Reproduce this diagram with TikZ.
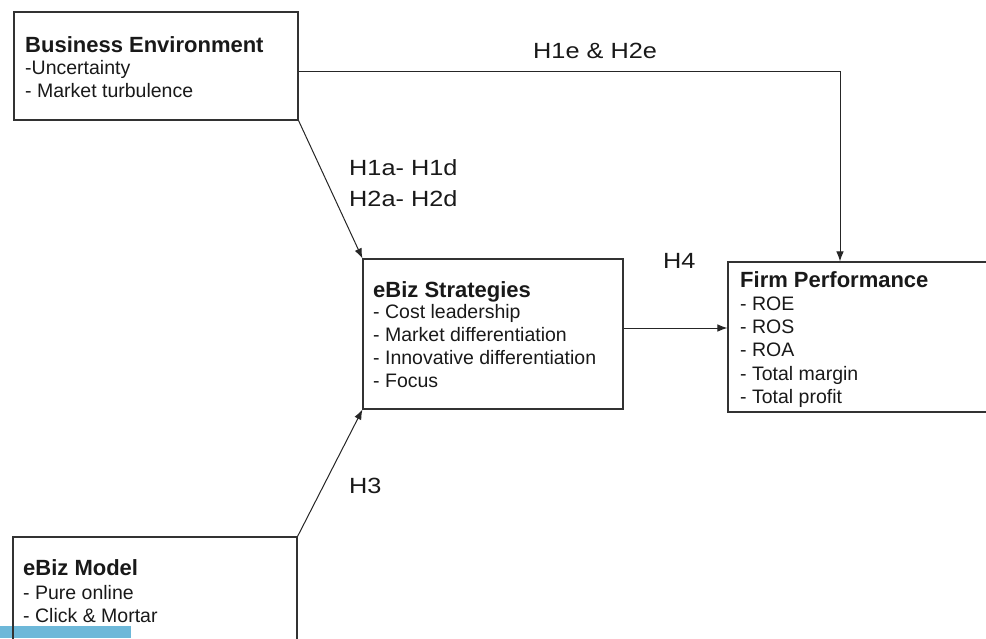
\documentclass[tikz,border=0pt]{standalone}
\usepackage{fontspec}
\setmainfont{Liberation Sans}
\newfontfamily\hfont[FakeStretch=1.15]{Liberation Sans}
\usetikzlibrary{arrows.meta}
\definecolor{barblue}{RGB}{109,184,217}
\definecolor{boxline}{RGB}{50,50,50}
\tikzset{
  box/.style={draw=boxline, line width=1.1pt, rectangle, inner sep=0pt, fill=none},
  ttl/.style={anchor=base west, inner sep=0pt, font=\fontsize{22}{26}\selectfont\bfseries, text=black!90},
  itm/.style={anchor=base west, inner sep=0pt, font=\fontsize{19.5}{23}\selectfont, text=black!90},
  hlab/.style={anchor=base west, inner sep=0pt, font=\hfont\fontsize{22}{26}\selectfont, text=black!90},
  arr/.style={draw=black!85, line width=1pt, -{Latex[length=10pt,width=7.5pt]}}
}
\begin{document}
\begin{tikzpicture}[x=1pt,y=-1pt]
\useasboundingbox (0,0) rectangle (986,638);
\fill[barblue] (0,626) rectangle (131,638);
% boxes
\node[box, minimum width=284pt, minimum height=108pt] (be) at (156,66) {};
\node[box, minimum width=260pt, minimum height=150pt] (es) at (493,334) {};
\node[box, minimum width=264pt, minimum height=150pt] (fp) at (860,337) {};
\node[box, minimum width=284pt, minimum height=123pt] (em) at (155,598.5) {};
% texts: business environment
\node[ttl] (beT) at (25,52) {Business Environment};
\node[itm] (be1) at (25,74) {-Uncertainty};
\node[itm] (be2) at (25,97) {- Market turbulence};
% ebiz strategies
\node[ttl] (esT) at (373,297) {eBiz Strategies};
\node[itm] (es1) at (373,318.5) {- Cost leadership};
\node[itm] (es2) at (373,341.5) {- Market differentiation};
\node[itm] (es3) at (373,364.5) {- Innovative differentiation};
\node[itm] (es4) at (373,387.5) {- Focus};
% firm performance
\node[ttl] (fpT) at (740,287) {Firm Performance};
\node[itm] (fp1) at (740,310) {- ROE};
\node[itm] (fp2) at (740,333) {- ROS};
\node[itm] (fp3) at (740,356.5) {- ROA};
\node[itm] (fp4) at (740,380) {- Total margin};
\node[itm] (fp5) at (740,403) {- Total profit};
% ebiz model
\node[ttl] (emT) at (23,575) {eBiz Model};
\node[itm] (em1) at (23,599) {- Pure online};
\node[itm] (em2) at (23,622) {- Click \& Mortar};
% labels
\node[hlab] (lH1e) at (533,58) {H1e \& H2e};
\node[hlab] (lH1a) at (349,175) {H1a- H1d};
\node[hlab] (lH2a) at (349,206) {H2a- H2d};
\node[hlab] (lH4) at (663,268) {H4};
\node[hlab] (lH3) at (349,493) {H3};
% connectors
\draw[arr] ([yshift=-5pt]be.east) -| ([xshift=-20pt]fp.north);
\draw[arr] (be.south east) -- (es.north west);
\draw[arr] (em.north east) -- (es.south west);
\draw[arr] ([yshift=6pt]es.east) -- ([yshift=6pt]es.east -| fp.west);
\end{tikzpicture}
\end{document}
